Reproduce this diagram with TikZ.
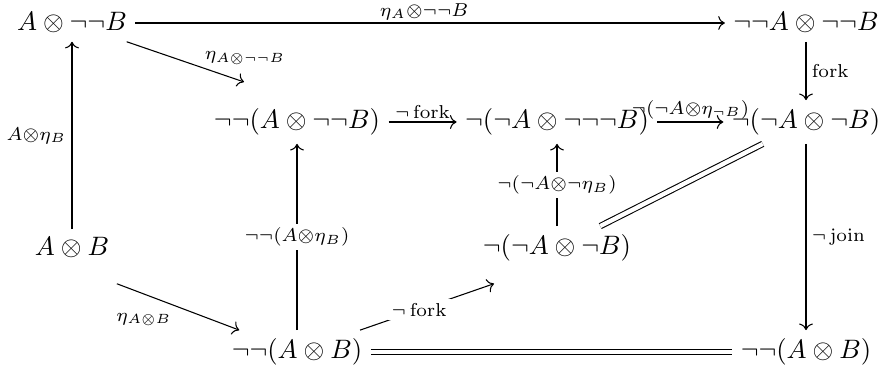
\documentclass[tikz,border=0pt]{standalone}
\usepackage{amsmath}
\usepackage{amssymb}
\usetikzlibrary{arrows.meta}
\newcommand{\sst}{\scriptstyle}

\begin{document}
\begin{tikzpicture}[
  x=0.375pt,
  y=-0.375pt,
  every node/.style={font=\normalsize},
  obj/.style={inner sep=3pt},
  map/.style={line width=0.4pt, -{To}},
  equal/.style={line width=0.4pt, double distance=1.6pt},
  lab/.style={inner sep=1pt},
  midlab/.style={fill=white, inner sep=1.5pt}
]
  % ---- common bounding box ----
  \useasboundingbox (0,0) rectangle (883,370);

  % ---- objects ----
  \node[obj] (tl)  at (72,23)   {$A\otimes\neg\neg B$};
  \node[obj] (tr)  at (806,23)  {$\neg\neg A\otimes\neg\neg B$};
  \node[obj] (dn)  at (297,122) {$\neg\neg(A\otimes\neg\neg B)$};
  \node[obj] (tn)  at (557,122) {$\neg(\neg A\otimes\neg\neg\neg B)$};
  \node[obj] (sn)  at (806,122) {$\neg(\neg A\otimes\neg B)$};
  \node[obj] (ab)  at (72,248)  {$A\otimes B$};
  \node[obj] (mn)  at (557,248) {$\neg(\neg A\otimes\neg B)$};
  \node[obj] (bl)  at (297,352) {$\neg\neg(A\otimes B)$};
  \node[obj] (br)  at (806,352) {$\neg\neg(A\otimes B)$};

  % ---- top row and right column ----
  \draw[map] (tl) -- (tr)
    node[lab, pos=0.49, above] {$\sst\eta_A\otimes\neg\neg B$};
  \draw[map] (tr) -- (sn)
    node[lab, midway, right=1pt] {$\sst\mathrm{fork}$};
  \draw[map] (sn) -- (br)
    node[lab, midway, right=1pt] {$\sst\neg\,\mathrm{join}$};

  % ---- middle row ----
  \draw[map] (dn) -- (tn)
    node[lab, midway, above] {$\sst\neg\,\mathrm{fork}$};
  \draw[map] (tn) -- (sn)
    node[lab, midway, above] {$\sst\neg(\neg A\otimes\eta_{\neg B})$};

  % ---- left column and diagonals ----
  \draw[map] (ab) -- (tl)
    node[lab, midway, left=1pt] {$\sst A\otimes\eta_B$};
  \draw[map, shorten >=21pt] (tl) -- (dn.north)
    node[lab, pos=0.44, anchor=south west] {$\sst\eta_{A\otimes\neg\neg B}$};
  \draw[map, shorten <=18pt] (ab.south) -- (bl)
    node[lab, pos=0.43, below=6pt] {$\sst\eta_{A\otimes B}$};

  % ---- verticals with the label on the line ----
  \draw[map] (bl) -- (bl |- dn.south)
    node[midlab, midway] {$\sst\neg\neg(A\otimes\eta_B)$};
  \draw[map] (mn) -- (mn |- tn.south)
    node[midlab, midway] {$\sst\neg(\neg A\otimes\neg\eta_B)$};
  \draw[map, shorten >=25pt] (bl) -- ([yshift=3pt]mn.south)
    node[midlab, pos=0.3] {$\sst\neg\,\mathrm{fork}$};

  % ---- equalities ----
  \draw[equal] (mn) -- (sn);
  \draw[equal] (bl) -- (br);
\end{tikzpicture}
\end{document}
